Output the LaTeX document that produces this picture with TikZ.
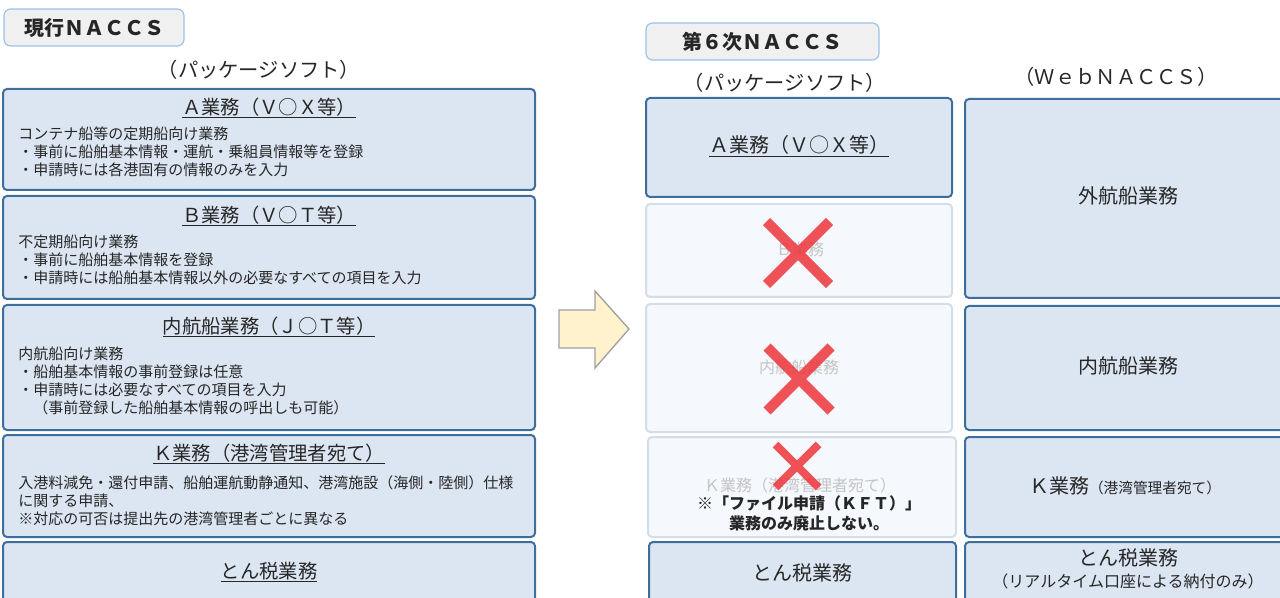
\documentclass[tikz,border=0pt]{standalone}
\usepackage{fontspec}
\setmainfont{Noto Sans CJK JP}
\usetikzlibrary{positioning}
\definecolor{boxBlue}{HTML}{DCE6F2}
\definecolor{lineBlue}{HTML}{3E6F9C}
\definecolor{fadeFill}{HTML}{F5F8FC}
\definecolor{fadeLine}{HTML}{D3DEEA}
\definecolor{headFill}{HTML}{F0F0F0}
\definecolor{headLine}{HTML}{9DC3E6}
\definecolor{arrowYellow}{HTML}{FFF2CC}
\definecolor{arrowGray}{HTML}{A0A0A0}
\definecolor{crossRed}{HTML}{EE3A40}
\definecolor{textDark}{HTML}{262626}
\definecolor{textFade}{HTML}{C4C4C4}

\begin{document}
\begin{tikzpicture}[x=0.75pt, y=-0.75pt,
    box/.style={draw=lineBlue, fill=boxBlue, line width=1.5pt, rounded corners=3pt},
    fadedBox/.style={draw=fadeLine, fill=fadeFill, line width=1.5pt, rounded corners=3pt},
    headBox/.style={draw=headLine, fill=headFill, line width=0.9pt, rounded corners=5pt},
    txt/.style={text=textDark, inner sep=0pt},
    headTxt/.style={txt, font=\bfseries\fontsize{15}{18}\selectfont},
    capTxt/.style={txt, font=\fontsize{15.2}{18}\selectfont},
    titleTxt/.style={txt, font=\fontsize{14.5}{17}\selectfont},
    bigTxt/.style={txt, font=\fontsize{15}{18}\selectfont},
    bodyTxt/.style={txt, anchor=north west, align=left, font=\fontsize{11.25}{13.5}\selectfont},
    fadeTxt/.style={inner sep=0pt, text=textFade, font=\fontsize{12}{14}\selectfont},
    noteTxt/.style={txt, align=center, font=\bfseries\fontsize{12}{15}\selectfont},
    smallTxt/.style={txt, font=\fontsize{12}{14}\selectfont}]
\useasboundingbox (0,0) rectangle (1280,598);

% current system
\draw[headBox] (4,9) rectangle (184,46);
\node[headTxt] (curHead) at (94,28) {現行ＮＡＣＣＳ};
\node[capTxt] (curSoft) at (259,70) {（パッケージソフト）};

\draw[box] (3,89) rectangle (535,190);
\node[titleTxt] (curA) at (269,108) {\underline{Ａ業務（Ｖ○Ｘ等）}};
\node[bodyTxt] (curAbody) at (18,127) {コンテナ船等の定期船向け業務\\・事前に船舶基本情報・運航・乗組員情報等を登録\\・申請時には各港固有の情報のみを入力};

\draw[box] (3,196) rectangle (535,299);
\node[titleTxt] (curB) at (269,216) {\underline{Ｂ業務（Ｖ○Ｔ等）}};
\node[bodyTxt] (curBbody) at (18,235) {不定期船向け業務\\・事前に船舶基本情報を登録\\・申請時には船舶基本情報以外の必要なすべての項目を入力};

\draw[box] (3,305) rectangle (535,430);
\node[titleTxt] (curJ) at (269,327) {\underline{内航船業務（Ｊ○Ｔ等）}};
\node[bodyTxt] (curJbody) at (18,347) {内航船向け業務\\・船舶基本情報の事前登録は任意\\・申請時には必要なすべての項目を入力\\　（事前登録した船舶基本情報の呼出しも可能）};

\draw[box] (3,435) rectangle (535,537);
\node[titleTxt] (curK) at (269,454) {\underline{Ｋ業務（港湾管理者宛て）}};
\node[bodyTxt] (curKbody) at (18,475) {入港料減免・還付申請、船舶運航動静通知、港湾施設（海側・陸側）仕様\\に関する申請、\\※対応の可否は提出先の港湾管理者ごとに異なる};

\draw[box] (3,542) rectangle (535,612);
\node[titleTxt] (curTon) at (269,572) {\underline{とん税業務}};

% arrow
\draw[draw=arrowGray, fill=arrowYellow, line width=1pt] (559,310) -- (595,310) -- (595,291) -- (629,329) -- (595,368) -- (595,348) -- (559,348) -- cycle;

% 6th system
\draw[headBox] (646,23) rectangle (879,60);
\node[headTxt] (newHead) at (762,42) {第６次ＮＡＣＣＳ};
\node[capTxt] (newSoft) at (785,83) {（パッケージソフト）};

\draw[box] (646,98) rectangle (952,197);
\node[bigTxt] (newA) at (799,146) {\underline{Ａ業務（Ｖ○Ｘ等）}};
\draw[fadedBox] (646,204) rectangle (952,297);
\node[fadeTxt] (newB) at (800,249) {Ｂ業務};
\draw[fadedBox] (646,304) rectangle (952,432);
\node[fadeTxt] (newJ) at (799,367) {内航船業務};
\draw[fadedBox] (648,437) rectangle (956,537);
\node[fadeTxt] (newK) at (800,485) {Ｋ業務（港湾管理者宛て）};

\foreach \cx/\cy/\h/\w in {798/253/31.5/7.5, 799/379/32/7.5, 797/466/21.5/6}
  \draw[crossRed, opacity=0.88, line width=\w pt]
    ({\cx-\h},{\cy-\h}) -- ({\cx+\h},{\cy+\h})
    ({\cx-\h},{\cy+\h}) -- ({\cx+\h},{\cy-\h});

\node[noteTxt] (newKft) at (809,513) {※「ファイル申請（ＫＦＴ）」\\業務のみ廃止しない。};

\draw[box] (649,542) rectangle (956,612);
\node[bigTxt] (newTon) at (802,573) {とん税業務};

% web
\node[capTxt] (webSoft) at (1116,77) {（ＷｅｂＮＡＣＣＳ）};
\draw[box] (965,99) rectangle (1295,298);
\node[bigTxt] (webOut) at (1128,196) {外航船業務};
\draw[box] (965,306) rectangle (1295,430);
\node[bigTxt] (webIn) at (1128,366) {内航船業務};
\draw[box] (965,437) rectangle (1295,537);
\node[bigTxt] (webK) at (1125,486) {Ｋ業務{\fontsize{11}{13}\selectfont（港湾管理者宛て）}};
\draw[box] (965,542) rectangle (1295,612);
\node[bigTxt] (webTon) at (1128,558) {とん税業務};
\node[smallTxt] (webPay) at (1128,581) {（リアルタイム口座による納付のみ）};
\end{tikzpicture}
\end{document}
